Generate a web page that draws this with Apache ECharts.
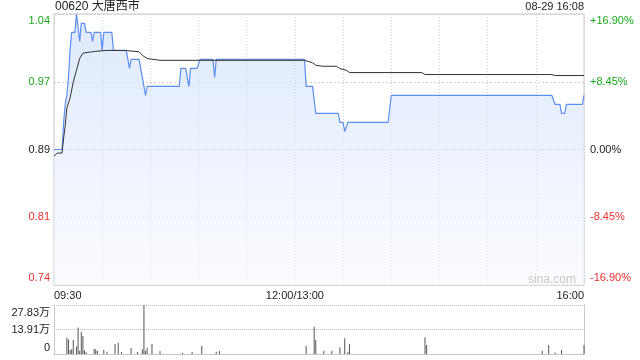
<!DOCTYPE html>
<html><head><meta charset="utf-8">
<script src="https://cdn.jsdelivr.net/npm/echarts@6/dist/echarts.min.js"></script>
<style>html,body{margin:0;padding:0;background:#fff}#c{width:640px;height:360px}</style>
</head><body><div id="c"></div>
<script>
const stockTitle = '00620 大唐西市';
const stampText = '08-29 16:08';
const prevClose = 0.89;
const pctTicks = [-16.9, -8.45, 0, 8.45, 16.9];
const priceLabels = ['0.74', '0.81', '0.89', '0.97', '1.04'];
const pctLabels = ['-16.90%', '-8.45%', '0.00%', '+8.45%', '+16.90%'];
const timeLabelMinutes = [0, 150, 330];
const timeLabels = ['09:30', '12:00/13:00', '16:00'];
const priceMinutes = [0,5,6,7,8,9,10,11,13,14,16,17,19,20,23,24,25,29,30,31,36,37,45,46,47,48,53,55,57,58,78,79,82,84,85,89,91,99,100,101,156,157,161,163,177,178,180,181,182,183,208,210,310,312,315,316,318,319,329,330];
const priceValues = [0.89,0.89,0.92,0.94,0.95,0.97,1.00,1.02,1.02,1.04,1.01,1.03,1.03,1.02,1.02,1.01,1.02,1.02,1.00,1.02,1.02,1.00,1.00,0.99,0.98,0.99,0.99,0.97,0.95,0.96,0.96,0.98,0.98,0.96,0.98,0.98,0.99,0.99,0.97,0.99,0.99,0.96,0.96,0.93,0.93,0.92,0.92,0.91,0.91,0.92,0.92,0.95,0.95,0.94,0.94,0.93,0.93,0.94,0.94,0.95];
const avgMinutes = [0,2,5,6,7,8,10,12,14,16,18,26,33,45,53,55,58,66,156,161,163,167,176,178,182,184,229,231,310,312,330];
const avgValues = [0.8826,0.886,0.886,0.9025,0.917,0.936,0.947,0.965,0.978,0.991,0.997,0.999,1.000,0.9998,0.9985,0.9946,0.991,0.989,0.989,0.9863,0.9835,0.9824,0.9824,0.9798,0.978,0.9754,0.9754,0.9732,0.9732,0.9721,0.9721];
const volMinutes = [8,9,10,11,12,14,15,16,17,18,19,20,25,26,27,31,33,38,40,42,48,52,55,56,57,58,61,66,80,86,92,101,103,157,162,163,168,173,178,181,183,184,231,232,304,308,312,316,330];
const volValues = [9.3,8.3,2.3,2.7,8.0,4.2,15.0,1.8,12.7,10.2,2.2,1.0,2.8,2.7,1.7,2.3,1.3,5.7,6.4,1.1,3.4,1.1,2.7,27.83,1.9,3.4,5.7,1.7,0.6,1.1,4.5,1.3,1.7,4.5,15.5,8.0,1.7,1.7,3.8,8.9,1.3,5.7,9.5,5.1,1.7,5.1,0.8,2.3,5.1];
const volTickLabels = ['0', '13.91万', '27.83万'];
const volMax = 27.83;

const GREEN = '#1aa81a', RED = '#f03030', DARK = '#222';
const FONT = '"Liberation Sans", Arial, "Noto Sans CJK SC", sans-serif';
const styleKeys = ['b', 'r', 'k', 'g', 't'];
function tickIdx(v) {
  let best = 0, d = 1e9;
  pctTicks.forEach((t, i) => { if (Math.abs(t - v) < d) { d = Math.abs(t - v); best = i; } });
  return best;
}
const richY = {
  t: { color: GREEN, fontSize: 11, fontFamily: FONT, padding: [14, 0, 0, 0] },
  g: { color: GREEN, fontSize: 11, fontFamily: FONT },
  k: { color: DARK, fontSize: 11, fontFamily: FONT },
  r: { color: RED, fontSize: 11, fontFamily: FONT },
  b: { color: RED, fontSize: 11, fontFamily: FONT, padding: [0, 0, 15, 0] }
};
const richV = {
  t: { color: DARK, fontSize: 11, fontFamily: FONT, padding: [15, 0, 0, 0] },
  m: { color: DARK, fontSize: 11, fontFamily: FONT },
  b: { color: DARK, fontSize: 11, fontFamily: FONT, padding: [0, 0, 12, 0] }
};
const toPct = p => (p / prevClose - 1) * 100;

const chart = echarts.init(document.getElementById('c'), null, { renderer: 'canvas' });
chart.setOption({
  animation: false,
  backgroundColor: '#fff',
  textStyle: { fontFamily: FONT },
  title: [
    { text: stockTitle, left: 55, top: 1, padding: 0, textStyle: { fontSize: 12, fontWeight: 'normal', color: DARK, fontFamily: FONT } },
    { text: stampText, right: 56, top: 1, padding: 0, textStyle: { fontSize: 11, fontWeight: 'normal', color: DARK, fontFamily: FONT } }
  ],
  grid: [
    { left: 54, right: 56, top: 14, height: 271, show: true, borderColor: '#c8c8c8', borderWidth: 1, backgroundColor: 'transparent' },
    { left: 54, right: 56, top: 305, height: 49 }
  ],
  xAxis: [
    { type: 'value', gridIndex: 0, min: 0, max: 330, interval: 30,
      axisLine: { show: false }, axisTick: { show: false },
      splitLine: { show: true, lineStyle: { color: '#d0d0d0', type: [1, 2] } },
      axisLabel: { show: true, margin: 5, fontSize: 11, color: DARK, fontFamily: FONT,
        alignMinLabel: 'left', alignMaxLabel: 'right', showMinLabel: true, showMaxLabel: true,
        formatter: v => { const i = timeLabelMinutes.indexOf(Math.round(v)); return i >= 0 ? timeLabels[i] : ''; } } },
    { type: 'value', gridIndex: 1, min: 0, max: 330, interval: 30,
      axisLine: { show: true, lineStyle: { color: '#c8c8c8' } }, axisTick: { show: false },
      splitLine: { show: false }, axisLabel: { show: false } }
  ],
  yAxis: [
    { type: 'value', gridIndex: 0, min: -16.9, max: 16.9, interval: 8.45,
      axisLine: { show: false }, axisTick: { show: false },
      splitLine: { show: true, lineStyle: { color: ['#d0d0d0', '#d0d0d0', '#b0b0b0', '#d0d0d0', '#d0d0d0'], type: [2, 2] } },
      axisLabel: { margin: 4, rich: richY, formatter: v => { const i = tickIdx(v); return '{' + styleKeys[i] + '|' + priceLabels[i] + '}'; } } },
    { type: 'value', gridIndex: 0, position: 'right', min: -16.9, max: 16.9, interval: 8.45,
      axisLine: { show: false }, axisTick: { show: false }, splitLine: { show: false },
      axisLabel: { margin: 6, rich: richY, formatter: v => { const i = tickIdx(v); return '{' + styleKeys[i] + '|' + pctLabels[i] + '}'; } } },
    { type: 'value', gridIndex: 1, min: 0, max: volMax, interval: volMax / 2,
      axisLine: { show: true, lineStyle: { color: '#c8c8c8' } }, axisTick: { show: false },
      splitLine: { show: true, lineStyle: { color: '#c0c0c0', type: [1, 1] } },
      axisLabel: { margin: 4, rich: richV, formatter: v => {
        const i = Math.round(v / (volMax / 2)); const k = ['b', 'm', 't'][i]; return '{' + k + '|' + volTickLabels[i] + '}'; } } },
    { type: 'value', gridIndex: 1, position: 'right', min: 0, max: volMax, interval: volMax / 2,
      axisLine: { show: true, lineStyle: { color: '#c8c8c8' } }, axisTick: { show: false },
      splitLine: { show: false }, axisLabel: { show: false } }
  ],
  series: [
    { type: 'line', xAxisIndex: 0, yAxisIndex: 0, symbol: 'none', z: 3,
      data: priceMinutes.map((m, i) => [m, toPct(priceValues[i])]),
      lineStyle: { color: '#5b8ef0', width: 1.2 },
      areaStyle: { origin: 'start', color: new echarts.graphic.LinearGradient(0, 0, 0, 1, [
        { offset: 0, color: 'rgba(205,222,250,0.95)' }, { offset: 1, color: 'rgba(248,250,255,0.9)' }]) } },
    { type: 'line', xAxisIndex: 0, yAxisIndex: 0, symbol: 'none', z: 4,
      data: avgMinutes.map((m, i) => [m, toPct(avgValues[i])]),
      lineStyle: { color: '#333', width: 1 } },
    { type: 'bar', xAxisIndex: 1, yAxisIndex: 2, barWidth: 1,
      data: volMinutes.map((m, i) => [m, volValues[i]]),
      itemStyle: { color: '#555' } }
  ],
  graphic: [
    { type: 'text', right: 64, top: 274, z: 10, style: { text: 'sina.com', fill: '#c8c8c8', fontSize: 12, fontFamily: FONT } }
  ]
});
</script>
</body></html>
